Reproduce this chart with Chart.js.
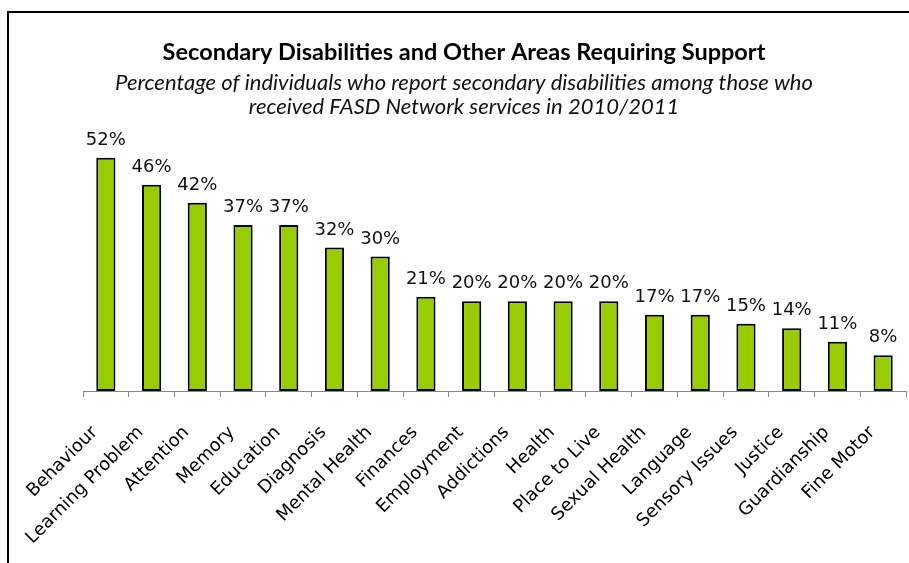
<!DOCTYPE html>
<html>
<head>
<meta charset="utf-8">
<title>Secondary Disabilities</title>
<script src="https://cdn.jsdelivr.net/npm/chart.js@4.4.1/dist/chart.umd.min.js"></script>
<style>
    html, body { margin: 0; padding: 0; background: #fff; }
    #wrap { position: relative; width: 909px; height: 563px; overflow: hidden; }
    #frame {
        position: absolute; left: 7px; top: 11px; width: 1000px; height: 1000px;
        border-left: 2px solid #000; border-top: 2px solid #000;
    }
    canvas { position: absolute; left: 0; top: 0; }
</style>
</head>
<body>
<div id="wrap">
    <div id="frame"></div>
    <canvas id="chart" width="909" height="563"></canvas>
</div>
<script>
// categories and percentages
const areas = [
    "Behaviour", "Learning Problem", "Attention", "Memory", "Education",
    "Diagnosis", "Mental Health", "Finances", "Employment", "Addictions",
    "Health", "Place to Live", "Sexual Health", "Language", "Sensory Issues",
    "Justice", "Guardianship", "Fine Motor"
];
const percents = [52, 46, 42, 37, 37, 32, 30, 21, 20, 20, 20, 20, 17, 17, 15, 14, 11, 8];

const titleText = "Secondary Disabilities and Other Areas Requiring Support";
const subtitleLines = [
    "Percentage of individuals who report secondary disabilities among those who",
    "received FASD Network services in 2010/2011"
];

const labelFont = "'DejaVu Sans', sans-serif";

// writes "52%" etc. above each bar
const valueLabels = {
    id: "valueLabels",
    afterDatasetsDraw(chart) {
        const ctx = chart.ctx;
        const meta = chart.getDatasetMeta(0);
        ctx.save();
        ctx.font = "18px " + labelFont;
        ctx.fillStyle = "#111";
        ctx.textAlign = "center";
        ctx.textBaseline = "alphabetic";
        meta.data.forEach((bar, i) => {
            ctx.fillText(percents[i] + "%", bar.x, bar.y - 13);
        });
        ctx.restore();
    }
};

new Chart(document.getElementById("chart"), {
    type: "bar",
    data: {
        labels: areas,
        datasets: [{
            data: percents,
            backgroundColor: "#99cc00",
            borderColor: "#000",
            borderWidth: 2,
            borderSkipped: false,
            barPercentage: 0.42,
            categoryPercentage: 1
        }]
    },
    options: {
        responsive: false,
        animation: false,
        layout: { padding: { left: 22, right: 3, top: 0, bottom: 0 } },
        plugins: {
            legend: { display: false },
            tooltip: { enabled: false },
            title: {
                display: true,
                text: titleText,
                color: "#000",
                font: { family: "Lato", size: 23.5, weight: "bold", lineHeight: 24 / 23.5 },
                padding: { top: 40, bottom: 7 }
            },
            subtitle: {
                display: true,
                text: subtitleLines,
                color: "#111",
                font: { family: "Lato", size: 22, style: "italic", lineHeight: 24 / 22 },
                padding: { top: 0, bottom: 3 }
            }
        },
        scales: {
            x: {
                grid: {
                    display: true,
                    drawOnChartArea: false,
                    drawTicks: true,
                    tickLength: 6,
                    color: "#888"
                },
                border: { display: true, color: "#888", width: 1 },
                ticks: {
                    autoSkip: false,
                    minRotation: 45,
                    maxRotation: 45,
                    color: "#000",
                    font: { family: labelFont, size: 18 },
                    padding: 25,
                    labelOffset: -11
                },
                afterFit(axis) {
                    axis.height = 172;
                    // rotated labels shouldn't squeeze the plot sideways
                    axis.paddingLeft = 0;
                    axis.paddingRight = 0;
                }
            },
            y: {
                min: 0,
                max: 60,
                grid: { display: false },
                border: { display: false },
                ticks: { display: false },
                afterFit(axis) { axis.width = 61; }
            }
        }
    },
    plugins: [valueLabels]
});
</script>
</body>
</html>
